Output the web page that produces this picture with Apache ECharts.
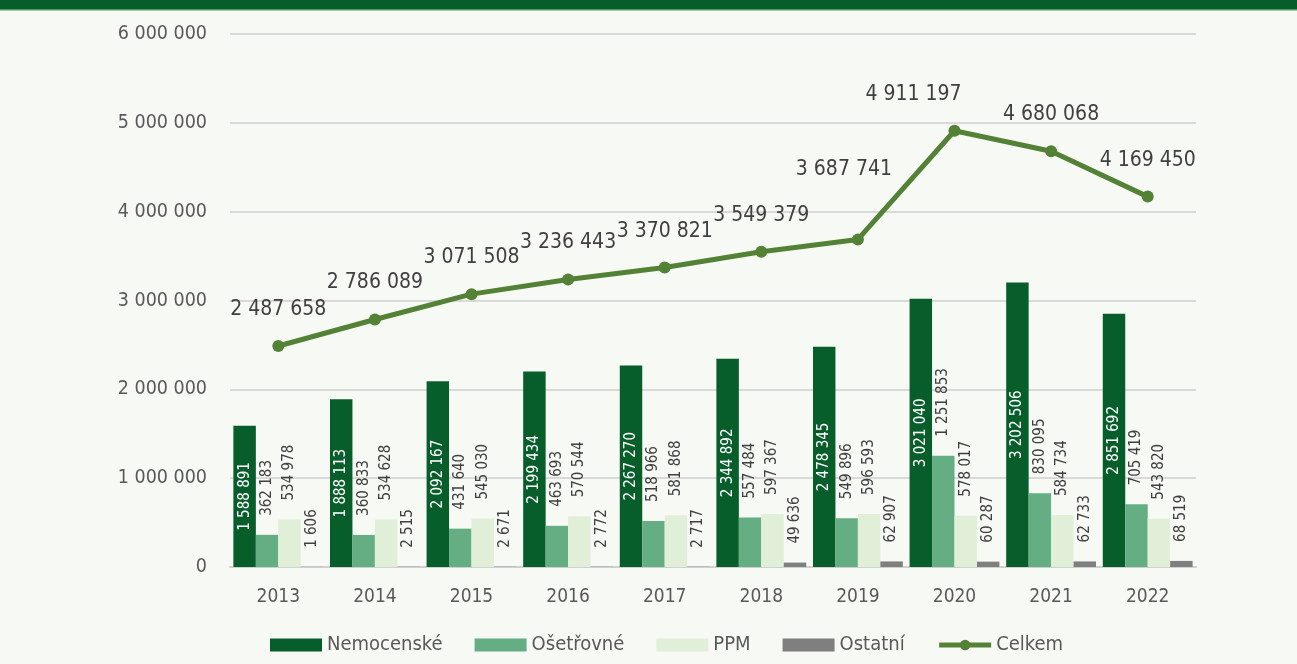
<!DOCTYPE html>
<html>
<head>
<meta charset="utf-8">
<script src="https://cdn.jsdelivr.net/npm/echarts@6/dist/echarts.min.js"></script>
<style>
  html, body { margin: 0; padding: 0; background: #f7f9f4; }
  #chart { width: 1297px; height: 664px; }
</style>
</head>
<body>
<div id="chart"></div>
<script>
var years = ['2013', '2014', '2015', '2016', '2017', '2018', '2019', '2020', '2021', '2022']
var nemocenske = [1588891, 1888113, 2092167, 2199434, 2267270, 2344892, 2478345, 3021040, 3202506, 2851692]
var osetrovne = [362183, 360833, 431640, 463693, 518966, 557484, 549896, 1251853, 830095, 705419]
var ppm = [534978, 534628, 545030, 570544, 581868, 597367, 596593, 578017, 584734, 543820]
var ostatni = [1606, 2515, 2671, 2772, 2717, 49636, 62907, 60287, 62733, 68519]
var celkem = [2487658, 2786089, 3071508, 3236443, 3370821, 3549379, 3687741, 4911197, 4680068, 4169450]

// mezery jako oddělovač tisíců
function fmt(v) {
  return String(v).replace(/\B(?=(\d{3})+(?!\d))/g, ' ')
}

var font = '"DejaVu Sans Condensed", "DejaVu Sans", sans-serif'
var textColor = '#595959'

// posuny popisků u čáry (jako v Excelu)
var lineLabelShift = { 6: [-14, -33], 7: [-41, 0] }
var celkemData = celkem.map(function (v, i) {
  var item = { value: v }
  if (lineLabelShift[i]) item.label = { offset: lineLabelShift[i] }
  return item
})

function barLabelTop() {
  return {
    show: true,
    position: 'top',
    rotate: 90,
    align: 'left',
    verticalAlign: 'middle',
    distance: 19,
    color: '#404040',
    fontFamily: font,
    fontSize: 15,
    formatter: function (p) { return fmt(p.value) }
  }
}

var myChart = echarts.init(document.getElementById('chart'))
var option = {
  backgroundColor: '#f7f9f4',
  animation: false,
  textStyle: { fontFamily: font },
  graphic: [
    { type: 'rect', shape: { x: 0, y: 0, width: 1297, height: 9 }, style: { fill: '#075e2b' } },
    { type: 'rect', shape: { x: 0, y: 9, width: 1297, height: 1.5 }, style: { fill: '#4e9a5e' } }
  ],
  grid: { left: 230, right: 101, top: 34, bottom: 97 },
  legend: {
    bottom: 4,
    left: 265,
    itemWidth: 52,
    itemHeight: 13,
    itemGap: 32,
    textStyle: { color: textColor, fontSize: 20, fontFamily: font },
    data: [
      { name: 'Nemocenské', icon: 'rect' },
      { name: 'Ošetřovné', icon: 'rect' },
      { name: 'PPM', icon: 'rect' },
      { name: 'Ostatní', icon: 'rect' },
      { name: 'Celkem', lineStyle: { width: 5 } }
    ]
  },
  xAxis: {
    type: 'category',
    data: years,
    axisTick: { show: false },
    axisLine: { lineStyle: { color: '#d0d0d0', width: 2 } },
    axisLabel: { color: textColor, fontSize: 19, margin: 21, fontFamily: font }
  },
  yAxis: {
    type: 'value',
    min: 0,
    max: 6000000,
    interval: 1000000,
    axisLine: { show: false },
    axisTick: { show: false },
    splitLine: { lineStyle: { color: '#d9d9d9', width: 2 } },
    axisLabel: {
      color: textColor, fontSize: 19.5, margin: 23, fontFamily: font,
      formatter: function (v) { return fmt(v) }
    }
  },
  series: [
    {
      name: 'Nemocenské',
      type: 'bar',
      data: nemocenske,
      barGap: '0%',
      barCategoryGap: '7%',
      itemStyle: { color: '#075e2b' },
      label: {
        show: true,
        position: 'inside',
        rotate: 90,
        color: '#ffffff',
        fontFamily: font,
        fontSize: 15,
        formatter: function (p) { return fmt(p.value) }
      }
    },
    {
      name: 'Ošetřovné',
      type: 'bar',
      data: osetrovne,
      itemStyle: { color: '#65ae84' },
      label: barLabelTop()
    },
    {
      name: 'PPM',
      type: 'bar',
      data: ppm,
      itemStyle: { color: '#e1efd9' },
      label: barLabelTop()
    },
    {
      name: 'Ostatní',
      type: 'bar',
      data: ostatni,
      itemStyle: { color: '#7f7f7f' },
      label: barLabelTop()
    },
    {
      name: 'Celkem',
      type: 'line',
      data: celkemData,
      symbol: 'circle',
      symbolSize: 12,
      itemStyle: { color: '#538135' },
      lineStyle: { color: '#538135', width: 5 },
      label: {
        show: true,
        position: 'top',
        distance: 20,
        color: '#404040',
        fontFamily: font,
        fontSize: 21,
        formatter: function (p) { return fmt(p.value) }
      }
    }
  ]
}
myChart.setOption(option)
</script>
</body>
</html>
